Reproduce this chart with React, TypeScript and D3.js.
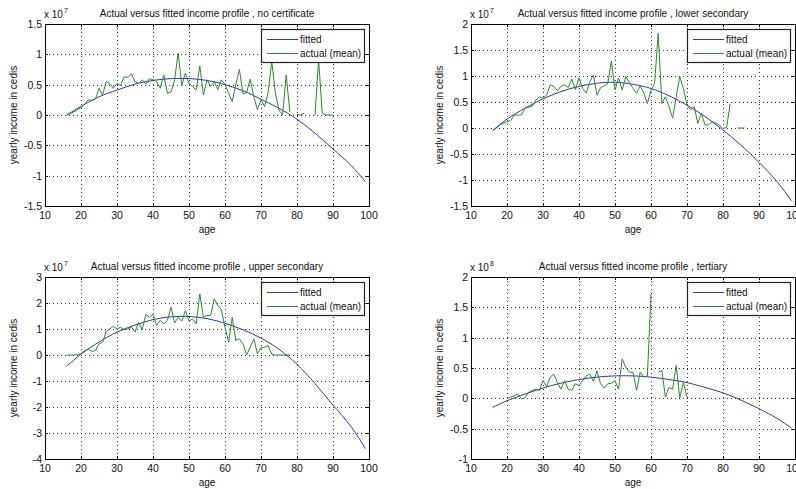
import React from "react";
import * as d3 from "d3";

// ---------- data (values in units of the panel's exponent) ----------
const titles = [
  "Actual versus fitted income profile , no certificate",
  "Actual versus fitted income profile , lower secondary",
  "Actual versus fitted income profile , upper secondary",
  "Actual versus fitted income profile , tertiary",
];
const exponents = ["7", "7", "7", "8"];

const yTicksNoCert = [-1.5, -1, -0.5, 0, 0.5, 1, 1.5];
const yTicksLower = [-1.5, -1, -0.5, 0, 0.5, 1, 1.5, 2];
const yTicksUpper = [-4, -3, -2, -1, 0, 1, 2, 3];
const yTicksTertiary = [-1, -0.5, 0, 0.5, 1, 1.5, 2];
const xTicks = [10, 20, 30, 40, 50, 60, 70, 80, 90, 100];

const fittedAges = [16, 20, 25, 30, 35, 40, 45, 50, 55, 60, 65, 70, 75, 80, 85, 90, 95, 99];
const fittedNoCert = [0, 0.14, 0.3, 0.41, 0.51, 0.57, 0.6, 0.6, 0.57, 0.5, 0.4, 0.26, 0.11, -0.07, -0.3, -0.56, -0.83, -1.1];
const fittedLower = [-0.05, 0.17, 0.38, 0.56, 0.7, 0.8, 0.86, 0.88, 0.84, 0.76, 0.62, 0.44, 0.22, -0.04, -0.33, -0.66, -1.03, -1.4];
const fittedUpper = [-0.44, 0.03, 0.5, 0.88, 1.15, 1.36, 1.47, 1.48, 1.4, 1.22, 0.97, 0.65, 0.22, -0.36, -1.1, -1.93, -2.75, -3.6];
const fittedTertiary = [-0.15, -0.04, 0.07, 0.17, 0.25, 0.31, 0.35, 0.37, 0.37, 0.35, 0.31, 0.26, 0.18, 0.09, -0.03, -0.17, -0.33, -0.49];

// actual means, one value per year of age from the start age (null = missing)
const actualNoCertStart = 16;
const actualNoCert = [
  0, 0.02, 0.05, 0.09, 0.12, 0.18, 0.25, 0.24, 0.26, 0.44,
  0.33, 0.55, 0.52, 0.44, 0.52, 0.49, 0.63, 0.62, 0.68, 0.55,
  0.52, 0.58, 0.51, 0.6, 0.58, 0.55, 0.44, 0.66, 0.36, 0.38,
  0.58, 1.02, 0.49, 0.69, 0.52, 0.47, 0.41, 0.81, 0.33, 0.58,
  0.47, 0.55, 0.42, 0.58, 0.5, 0.36, 0.22, 0.5, 0.75, 0.35,
  0.37, 0.59, 0.3, 0.09, 0.25, 0.14, 0.38, 0.88, 0.36, 0.08,
  0, 0.66, 0.05, null, 0.01, 0, 0.03, null, null, 0,
  0.92, 0.03, 0, 0, 0,
];
const actualLowerStart = 16;
const actualLower = [
  -0.04, -0.01, 0.06, 0.09, 0.12, 0.14, 0.25, 0.25, 0.25, 0.38,
  0.4, 0.42, 0.54, 0.6, 0.57, 0.63, 0.83, 0.8, 0.72, 0.8,
  0.83, 0.78, 0.94, 0.74, 0.96, 0.76, 0.67, 0.89, 1.02, 0.63,
  0.78, 0.81, 0.86, 1.29, 0.73, 0.96, 0.73, 0.99, 0.87, 0.76,
  0.67, 0.81, 0.67, 0.47, 0.73, 0.86, 1.82, 0.47, 0.6, 0.41,
  0.19, 0.6, 0.99, 0.76, 0.44, 0.35, 0.41, 0.09, 0.28, 0.06,
  0.06, 0.12, 0.09, 0.06, -0.01, 0.01, 0.47, null, 0, 0, 0,
];
const actualUpperStart = 16;
const actualUpper = [
  0, 0, 0, 0.02, 0.05, 0.17, 0.23, 0.14, 0.17, 0.43,
  0.49, 0.91, 1.0, 1.1, 1.0, 1.07, 0.97, 1.0, 1.07, 0.88,
  1.26, 0.97, 1.56, 1.45, 1.56, 1.14, 1.33, 1.2, 1.33, 1.84,
  1.23, 1.45, 1.3, 1.71, 1.3, 1.39, 1.2, 2.35, 1.45, 1.52,
  1.52, 2.16, 1.9, 1.74, 1.07, 0.49, 1.45, 0.56, 0.62, 0.43,
  0, 0.3, 0.62, 0.05, 0.27, 0.3, 0.36, 0.02, 0, 0,
  0, 0, 0,
];
const actualTertiaryStart = 20;
const actualTertiary = [
  0, 0.02, 0.04, 0.07, -0.01, 0.01, 0.1, 0.13, 0.15, 0.13,
  0.29, 0.19, 0.35, 0.4, 0.26, 0.15, 0.29, 0.15, 0.13, 0.24,
  0.21, 0.29, 0.37, 0.4, 0.28, 0.45, 0.24, 0.17, 0.24, 0.25,
  0.29, 0.15, 0.65, 0.51, 0.43, 0.43, 0.13, 0.43, 0.35, 0.37,
  1.72, null, 0.43, 0.46, 0.02, 0.18, 0.15, 0.54, 0.01, 0.26,
  0.02,
];

const legendLabels = ["fitted", "actual (mean)"];

// ---------- layout ----------
const FIT_COLOR = "#3434b4";
const ACT_COLOR = "#2a8a2a";
const FONT = "'Liberation Sans', Arial, Helvetica, sans-serif";

type Panel = {
  left: number; top: number; yDomain: [number, number]; yTicks: number[];
  fitted: number[]; actual: (number | null)[]; actualStart: number;
  title: string; exp: string;
};

const panels: Panel[] = [
  { left: 45, top: 24, yDomain: [-1.5, 1.5], yTicks: yTicksNoCert, fitted: fittedNoCert, actual: actualNoCert, actualStart: actualNoCertStart, title: titles[0], exp: exponents[0] },
  { left: 471, top: 24, yDomain: [-1.5, 2], yTicks: yTicksLower, fitted: fittedLower, actual: actualLower, actualStart: actualLowerStart, title: titles[1], exp: exponents[1] },
  { left: 45, top: 277, yDomain: [-4, 3], yTicks: yTicksUpper, fitted: fittedUpper, actual: actualUpper, actualStart: actualUpperStart, title: titles[2], exp: exponents[2] },
  { left: 471, top: 277, yDomain: [-1, 2], yTicks: yTicksTertiary, fitted: fittedTertiary, actual: actualTertiary, actualStart: actualTertiaryStart, title: titles[3], exp: exponents[3] },
];

const W = 324;
const H = 182;

function PanelView({ p }: { p: Panel }) {
  const x = d3.scaleLinear().domain([10, 100]).range([p.left, p.left + W]);
  const y = d3.scaleLinear().domain(p.yDomain).range([p.top + H, p.top]);
  const fitPts: [number, number][] = fittedAges.map((a, i) => [a, p.fitted[i]]);
  const actPts: [number, number | null][] = p.actual.map((v, i) => [p.actualStart + i, v]);
  const fitLine = d3.line<[number, number]>().x(d => x(d[0])).y(d => y(d[1])).curve(d3.curveNatural);
  const actLine = d3.line<[number, number | null]>()
    .defined(d => d[1] !== null)
    .x(d => x(d[0]))
    .y(d => y(d[1] as number));
  const bottom = p.top + H;
  const right = p.left + W;
  const lx = p.left + 216;
  const ly = p.top + 5;
  const fmt = (v: number) => String(v).replace("−", "-");
  return (
    <g fontFamily={FONT}>
      <rect x={p.left} y={p.top} width={W} height={H} fill="#fff" />
      {/* grid */}
      {xTicks.slice(1, -1).map(t => (
        <line key={"gx" + t} x1={Math.round(x(t)) + 0.5} x2={Math.round(x(t)) + 0.5} y1={p.top} y2={bottom}
          stroke="#333" strokeWidth={1} strokeDasharray="1,3" />
      ))}
      {p.yTicks.slice(1, -1).map(t => (
        <line key={"gy" + t} y1={Math.round(y(t)) + 0.5} y2={Math.round(y(t)) + 0.5} x1={p.left} x2={right}
          stroke="#333" strokeWidth={1} strokeDasharray="1,3" />
      ))}
      {/* lines */}
      <path d={fitLine(fitPts) || ""} fill="none" stroke={FIT_COLOR} strokeWidth={1} />
      <path d={actLine(actPts) || ""} fill="none" stroke={ACT_COLOR} strokeWidth={1} />
      {/* box */}
      <rect x={p.left + 0.5} y={p.top + 0.5} width={W} height={H} fill="none" stroke="#000" strokeWidth={1} />
      {/* ticks */}
      {xTicks.map(t => (
        <g key={"tx" + t}>
          <line x1={Math.round(x(t)) + 0.5} x2={Math.round(x(t)) + 0.5} y1={bottom} y2={bottom - 3} stroke="#000" />
          <line x1={Math.round(x(t)) + 0.5} x2={Math.round(x(t)) + 0.5} y1={p.top} y2={p.top + 3} stroke="#000" />
          <text x={x(t)} y={bottom + 13} fontSize={10.5} textAnchor="middle" fill="#111">{t}</text>
        </g>
      ))}
      {p.yTicks.map(t => (
        <g key={"ty" + t}>
          <line y1={Math.round(y(t)) + 0.5} y2={Math.round(y(t)) + 0.5} x1={p.left} x2={p.left + 3} stroke="#000" />
          <line y1={Math.round(y(t)) + 0.5} y2={Math.round(y(t)) + 0.5} x1={right} x2={right - 3} stroke="#000" />
          <text x={p.left - 3} y={y(t) + 4} fontSize={10.5} textAnchor="end" fill="#111">{fmt(t)}</text>
        </g>
      ))}
      {/* exponent */}
      <text x={p.left - 1} y={p.top - 6} fontSize={10} fill="#111">x 10</text>
      <text x={p.left + 19} y={p.top - 11} fontSize={7} fill="#111">{p.exp}</text>
      {/* title & labels */}
      <text x={p.left + W / 2} y={p.top - 7} fontSize={10} textAnchor="middle" fill="#111">{p.title}</text>
      <text x={p.left + W / 2} y={bottom + 27} fontSize={10} textAnchor="middle" fill="#111">age</text>
      <text transform={`translate(${p.left - 28},${p.top + H / 2}) rotate(-90)`} fontSize={10} textAnchor="middle" fill="#111">
        yearly income in cedis
      </text>
      {/* legend */}
      <rect x={lx + 0.5} y={ly + 0.5} width={103} height={33} fill="#fff" stroke="#222" strokeWidth={1.2} />
      <line x1={lx + 6} x2={lx + 37} y1={ly + 10.5} y2={ly + 10.5} stroke={FIT_COLOR} strokeWidth={1} />
      <text x={lx + 39} y={ly + 14} fontSize={10} fill="#111">{legendLabels[0]}</text>
      <line x1={lx + 6} x2={lx + 37} y1={ly + 24.5} y2={ly + 24.5} stroke={ACT_COLOR} strokeWidth={1} />
      <text x={lx + 39} y={ly + 28} fontSize={10} fill="#111">{legendLabels[1]}</text>
    </g>
  );
}

export default function App() {
  return (
    <svg width={796} height={489} style={{ position: "absolute", left: 0, top: 0, background: "#fff" }}>
      <rect x={0} y={0} width={796} height={489} fill="#fff" />
      {panels.map((p, i) => <PanelView key={i} p={p} />)}
    </svg>
  );
}
